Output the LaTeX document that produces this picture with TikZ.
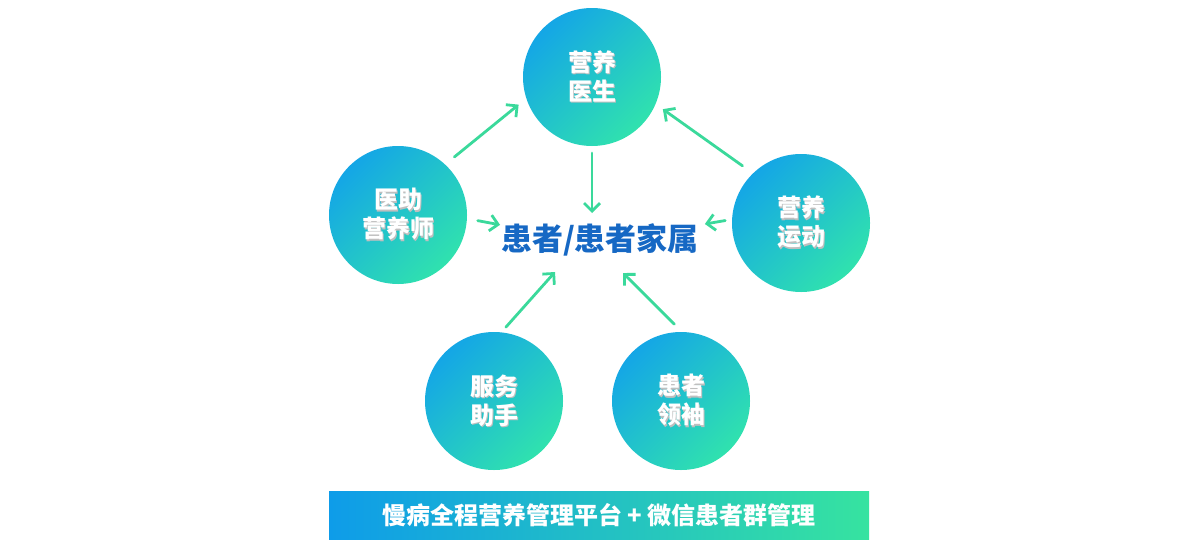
\documentclass[tikz,border=0pt]{standalone}
\usepackage{fontspec}
\newfontfamily\cjk{Noto Sans CJK SC}
\usetikzlibrary{arrows.meta, calc, positioning}
\definecolor{roleB}{HTML}{14A6E6}
\definecolor{roleG}{HTML}{30E2AE}
\definecolor{barB}{HTML}{0E9CE9}
\definecolor{barG}{HTML}{36E3A0}
\definecolor{linkG}{HTML}{3AD99B}
\definecolor{famB}{HTML}{1668C4}
\newcommand{\shtxt}[1]{\makebox[0pt][l]{\kern1.2pt\raisebox{-1.2pt}{\color{black!25}#1}}#1}
\tikzset{
    roleC/.style={circle, draw=none, minimum size=138pt, inner sep=0pt, outer sep=0pt,
        top color=roleB, bottom color=roleG, shading angle=45,
        text=white, align=center, font=\cjk\bfseries\fontsize{24pt}{29pt}\selectfont},
    famT/.style={inner sep=0pt, outer sep=0pt, text=famB, text height=25pt, text depth=5pt,
        font=\cjk\bfseries\fontsize{31pt}{31pt}\selectfont},
    barR/.style={rectangle, draw=none, minimum width=540pt, minimum height=48pt, inner sep=0pt,
        left color=barB, right color=barG, text=white,
        font=\cjk\bfseries\fontsize{24pt}{24pt}\selectfont},
    linkA/.style={draw=linkG, line width=2.8pt, line cap=round,
        -{Straight Barb[length=8pt, width=16pt]}}
}
\begin{document}
\begin{tikzpicture}[x=1pt, y=-1pt]
    \useasboundingbox (0,0) rectangle (1201,552);
    % roles round the patient
    \node[roleC] (doc) at (592,77) {\shtxt{营养}\\\shtxt{医生}};
    \node[roleC] (asst) at (398,215) {\shtxt{医助}\\\shtxt{营养师}};
    \node[roleC] (sport) at (801,223) {\shtxt{营养}\\\shtxt{运动}};
    \node[roleC] (svc) at (494,401) {\shtxt{服务}\\\shtxt{助手}};
    \node[roleC] (lead) at (681,401) {\shtxt{患者}\\\shtxt{领袖}};
    \node[famT] (fam) at (600,240) {患者/患者家属};
    \node[barR] (bar) at (599,515) {慢病全程营养管理平台 + 微信患者群管理};
    \coordinate (inL) at (555,272);
    \coordinate (inR) at (623,273);
    % links
    \draw[linkA, shorten <=12pt, shorten >=10pt] (asst.47) -- (doc.198);
    \draw[linkA, shorten <=13pt, shorten >=9pt] (sport.134) -- (doc.337);
    \draw[linkA, shorten <=7pt, shorten >=12pt] (doc.south) -- (doc.south |- fam.north);
    \draw[linkA, shorten <=11pt, shorten >=1pt] (asst.-3) -- (fam.north west);
    \draw[linkA, shorten <=7pt, shorten >=6pt] (sport.177) -- (fam.north east);
    \draw[linkA, shorten <=7pt] (svc.84) -- (inL);
    \draw[linkA, shorten <=11pt] (lead.89) -- (inR);
\end{tikzpicture}
\end{document}
